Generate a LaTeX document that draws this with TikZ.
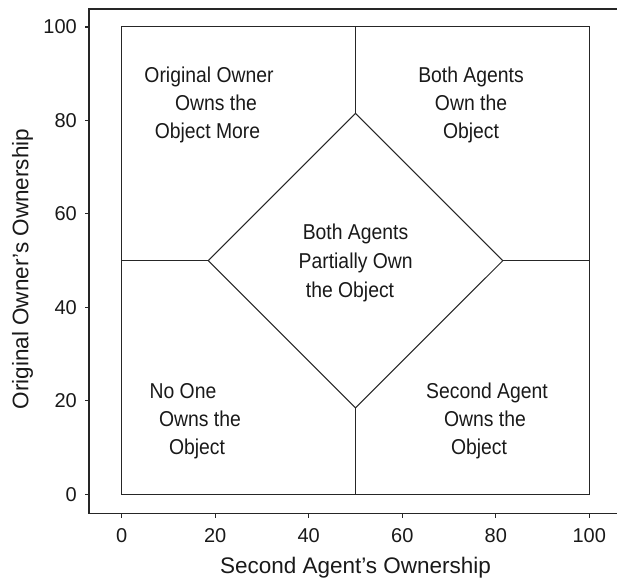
\documentclass[tikz,border=0pt]{standalone}
\usepackage{fontspec}
\setmainfont{Liberation Sans}
\newfontfamily\regfont[FakeStretch=0.9]{Liberation Sans}
\begin{document}
\begin{tikzpicture}[x=1pt,y=-1pt,
  spine/.style={line width=1.2pt, draw=black!85},
  frameline/.style={line width=1pt, draw=black!85},
  tickline/.style={line width=1.1pt, draw=black!85},
  ticklab/.style={font=\fontsize{20}{24}\selectfont, text=black!90, inner sep=0pt},
  axlab/.style={font=\fontsize{22.5}{27}\selectfont, text=black!90, inner sep=0pt},
  reglab/.style={font=\regfont\fontsize{21.5}{28}\selectfont, text=black!90, inner sep=0pt, anchor=base}]
\useasboundingbox (0,0) rectangle (617,580);
% data frame corners and division points
\coordinate (sw) at (121.7,494.3);
\coordinate (ne) at (589.3,27);
\coordinate (tm) at (355.5,27);
\coordinate (bm) at (355.5,494.3);
\coordinate (lm) at (121.7,260.65);
\coordinate (rm) at (589.3,260.65);
\coordinate (dl) at (208.2,260.65);
\coordinate (dt) at (355.5,113.4);
\coordinate (dr) at (502.8,260.65);
\coordinate (db) at (355.5,407.9);
\draw[frameline] (sw) rectangle (ne);
\draw[frameline] (dl) -- (dt) -- (dr) -- (db) -- cycle;
\draw[frameline] (tm) -- (dt);
\draw[frameline] (bm) -- (db);
\draw[frameline] (lm) -- (dl);
\draw[frameline] (rm) -- (dr);
% axes
\coordinate (ax0) at (89,513.3);
\coordinate (axtop) at (89,9);
\coordinate (axtr) at (617,9);
\coordinate (axbr) at (617,513.3);
\draw[spine] (axtr) -- (axtop) -- (ax0) -- (axbr);
\foreach \v in {0,20,40,60,80,100} {
  \coordinate (yt\v) at (89,{494.3-4.673*\v});
  \coordinate (yte\v) at (84.5,{494.3-4.673*\v});
  \draw[tickline] (yt\v) -- (yte\v);
  \node[ticklab, anchor=east] (yl\v) at (77,{494.3-4.673*\v}) {\v};
  \coordinate (xt\v) at ({121.7+4.676*\v},513.3);
  \coordinate (xte\v) at ({121.7+4.676*\v},517.8);
  \draw[tickline] (xt\v) -- (xte\v);
  \node[ticklab, anchor=base] (xl\v) at ({121.7+4.676*\v},542) {\v};
}
\node[axlab, anchor=base] (xlab) at (355.5,573.3) {Second Agent’s Ownership};
\node[axlab, rotate=90, anchor=base] (ylab) at (28.3,269) {Original Owner’s Ownership};
% region labels
\node[reglab] (tl1) at (209,83) {Original Owner};
\node[reglab] (tl2) at (216,111) {Owns the};
\node[reglab] (tl3) at (207.5,139) {Object More};
\node[reglab] (tr1) at (471,83) {Both Agents};
\node[reglab] (tr2) at (471,111) {Own the};
\node[reglab] (tr3) at (471,139) {Object};
\node[reglab] (c1) at (355.5,239.3) {Both Agents};
\node[reglab] (c2) at (355.7,268.3) {Partially Own};
\node[reglab] (c3) at (350,297.3) {the Object};
\node[reglab] (bl1) at (183,398) {No One};
\node[reglab] (bl2) at (200,426) {Owns the};
\node[reglab] (bl3) at (197,454) {Object};
\node[reglab] (br1) at (487,398) {Second Agent};
\node[reglab] (br2) at (485,426) {Owns the};
\node[reglab] (br3) at (479,454) {Object};
\end{tikzpicture}
\end{document}
